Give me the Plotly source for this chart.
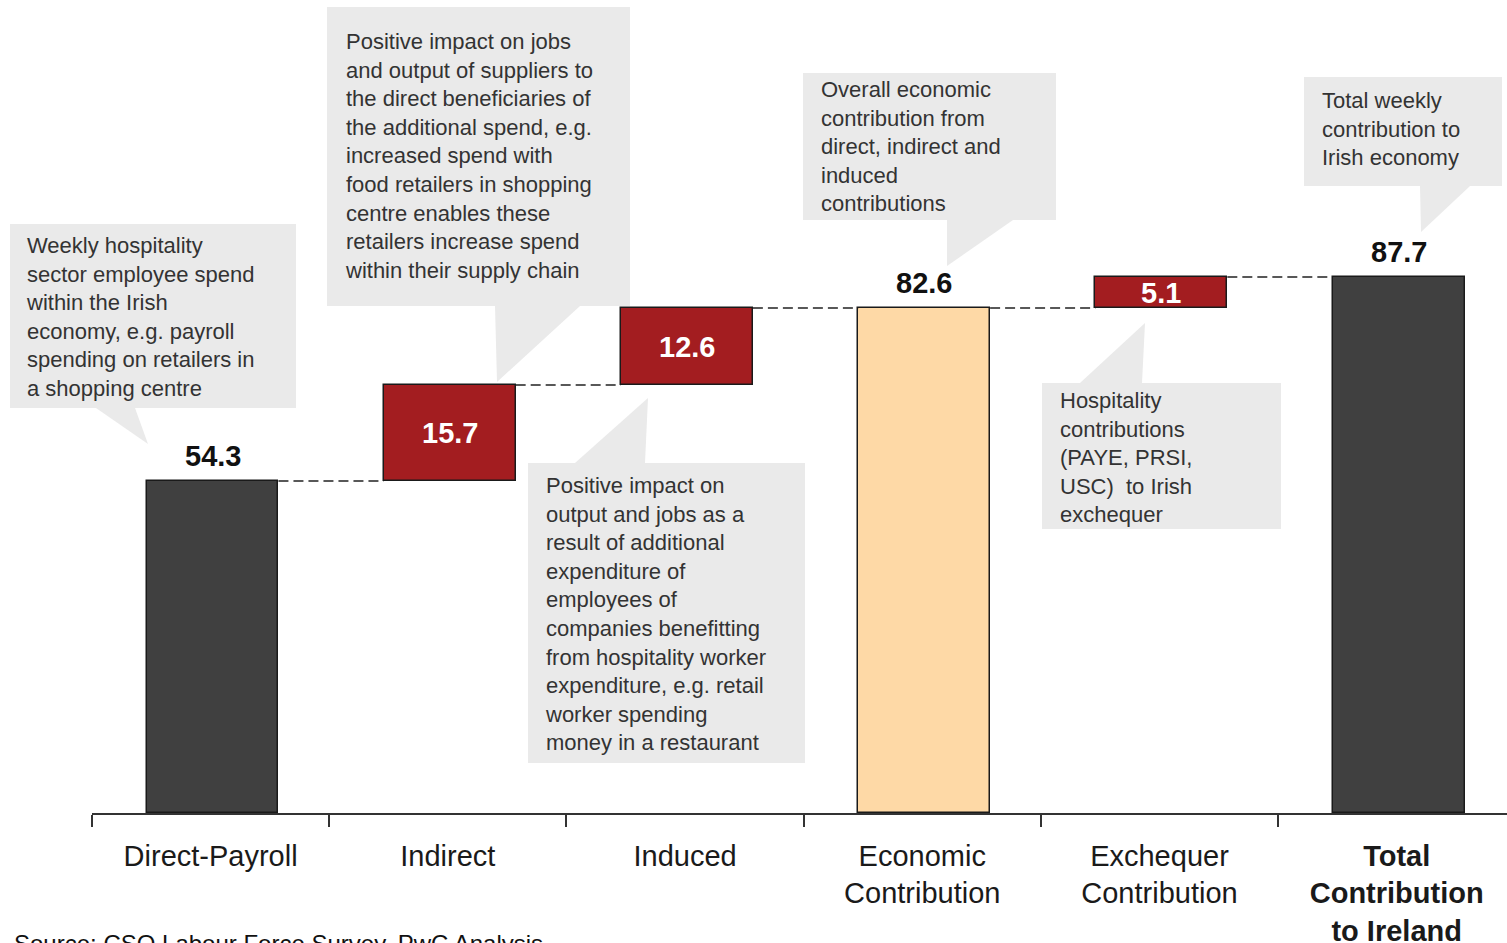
import plotly.graph_objects as go

# ---------------- data ----------------
categories = ["Direct-Payroll", "Indirect", "Induced", "Economic Contribution",
              "Exchequer Contribution", "Total Contribution to Ireland"]
tick_labels = ["Direct-Payroll", "Indirect", "Induced", "Economic<br>Contribution",
               "Exchequer<br>Contribution",
               "<b>Total</b><br><b>Contribution</b><br><b>to Ireland</b>"]
values = [54.3, 15.7, 12.6, 82.6, 5.1, 87.7]
kinds = ["total", "step", "step", "total", "step", "total"]
value_labels = ["54.3", "15.7", "12.6", "82.6", "5.1", "87.7"]

callout_texts = [
    "Weekly hospitality<br>sector employee spend<br>within the Irish<br>economy, e.g. payroll<br>spending on retailers in<br>a shopping centre",
    "Positive impact on jobs<br>and output of suppliers to<br>the direct beneficiaries of<br>the additional spend, e.g.<br>increased spend with<br>food retailers in shopping<br>centre enables these<br>retailers increase spend<br>within their supply chain",
    "Positive impact on<br>output and jobs as a<br>result of additional<br>expenditure of<br>employees of<br>companies benefitting<br>from hospitality worker<br>expenditure, e.g. retail<br>worker spending<br>money in a restaurant",
    "Overall economic<br>contribution from<br>direct, indirect and<br>induced<br>contributions",
    "Hospitality<br>contributions<br>(PAYE, PRSI,<br>USC)  to Irish<br>exchequer",
    "Total weekly<br>contribution to<br>Irish economy",
]
source_text = "Source: CSO Labour Force Survey, PwC Analysis"

# ---------------- styles ----------------
W, H = 1507, 943
L, R, T, B = 92, 0, 0, 130
PW, PH = W - L - R, H - T - B
FONT = "Liberation Sans, Arial, sans-serif"
DARK = "#404040"
RED = "#A31D20"
PEACH = "#FED9A6"
BOX = "#EAEAEA"
BAR_W = 0.556
BAR_SHIFT = 0.008

def px(x):
    return (x - L) / PW

def py(y):
    return (PH - (y - T)) / PH

# bases computed from the data
bases = []
running = 0.0
for v, k in zip(values, kinds):
    if k == "total":
        bases.append(0.0)
        running = v
    else:
        bases.append(running)
        running += v
tops = [b + v for b, v in zip(bases, values)]

colors = []
for i, k in enumerate(kinds):
    if k == "step":
        colors.append(RED)
    elif i == 3:
        colors.append(PEACH)
    else:
        colors.append(DARK)

fig = go.Figure()
fig.add_trace(go.Bar(
    x=categories, y=values, base=bases, width=BAR_W,
    offset=-BAR_W / 2 + BAR_SHIFT,
    marker=dict(color=colors, line=dict(color="#1a1a1a", width=1.5)),
    hoverinfo="skip", showlegend=False,
))

shapes = []
# connectors
for i in range(len(values) - 1):
    shapes.append(dict(type="line", xref="x", yref="y",
                       x0=i + BAR_W / 2 + BAR_SHIFT, x1=i + 1 - BAR_W / 2 + BAR_SHIFT,
                       y0=tops[i], y1=tops[i],
                       line=dict(color="#222222", width=1.5, dash="10px,5px")))

# callouts (pixel layout): box, wedge, text anchor
callouts = [
    dict(box=(10, 224, 296, 408), wedge=[(96, 408), (135, 408), (148, 444)], txt=(24, 231)),
    dict(box=(327, 7, 630, 306), wedge=[(495, 306), (580, 306), (497, 382)], txt=(343, 27)),
    dict(box=(528, 463, 805, 763), wedge=[(575, 463), (645, 463), (648, 398)], txt=(543, 471)),
    dict(box=(803, 73, 1056, 220), wedge=[(947, 220), (1013, 220), (947, 266)], txt=(819, 75)),
    dict(box=(1042, 383, 1281, 529), wedge=[(1080, 383), (1142, 383), (1145, 323)], txt=(1058, 386)),
    dict(box=(1304, 77, 1502, 186), wedge=[(1420, 186), (1470, 186), (1421, 232)], txt=(1320, 86)),
]
annotations = []
for c, text in zip(callouts, callout_texts):
    x0, y0, x1, y1 = c["box"]
    shapes.append(dict(type="rect", xref="paper", yref="paper",
                       x0=px(x0), x1=px(x1), y0=py(y1), y1=py(y0),
                       fillcolor=BOX, line=dict(width=0), layer="below"))
    pts = c["wedge"]
    path = "M {} {} L {} {} L {} {} Z".format(
        px(pts[0][0]), py(pts[0][1]), px(pts[1][0]), py(pts[1][1]),
        px(pts[2][0]), py(pts[2][1]))
    shapes.append(dict(type="path", xref="paper", yref="paper", path=path,
                       fillcolor=BOX, line=dict(width=0), layer="below"))
    tx, ty = c["txt"]
    annotations.append(dict(xref="paper", yref="paper", x=px(tx), y=py(ty),
                            xanchor="left", yanchor="top", align="left",
                            text=text, showarrow=False,
                            font=dict(family=FONT, size=22, color="#333333")))

# value labels
for i, k in enumerate(kinds):
    xc = i + BAR_SHIFT
    if k == "total":
        annotations.append(dict(xref="x", yref="y", x=xc, y=tops[i],
                                yanchor="bottom", yshift=7, showarrow=False,
                                text="<b>" + value_labels[i] + "</b>",
                                font=dict(family=FONT, size=29, color="#111111")))
    else:
        annotations.append(dict(xref="x", yref="y", x=xc, y=bases[i] + values[i] / 2,
                                yanchor="middle", showarrow=False,
                                text="<b>" + value_labels[i] + "</b>",
                                font=dict(family=FONT, size=29, color="white")))

annotations.append(dict(xref="paper", yref="paper", x=px(12), y=py(943),
                        xanchor="left", yanchor="middle", showarrow=False,
                        text=source_text,
                        font=dict(family=FONT, size=24, color="#111111")))

fig.update_layout(
    width=W, height=H,
    margin=dict(l=L, r=R, t=T, b=B, pad=0, autoexpand=False),
    plot_bgcolor="white", paper_bgcolor="white",
    shapes=shapes, annotations=annotations,
    bargap=0,
    xaxis=dict(type="category", range=[-0.5, 5.465], automargin=False,
               tickmode="array", tickvals=categories, ticktext=tick_labels,
               tickson="boundaries", ticks="outside", ticklen=12,
               tickcolor="#333333", tickwidth=1.5,
               ticklabelstandoff=16,
               showline=True, linecolor="#333333", linewidth=1.5,
               showgrid=False, zeroline=False,
               tickfont=dict(family=FONT, size=29, color="#1a1a1a")),
    yaxis=dict(range=[0, 133], visible=False, showgrid=False, zeroline=False,
               automargin=False),
)

fig.write_html("out.html")
